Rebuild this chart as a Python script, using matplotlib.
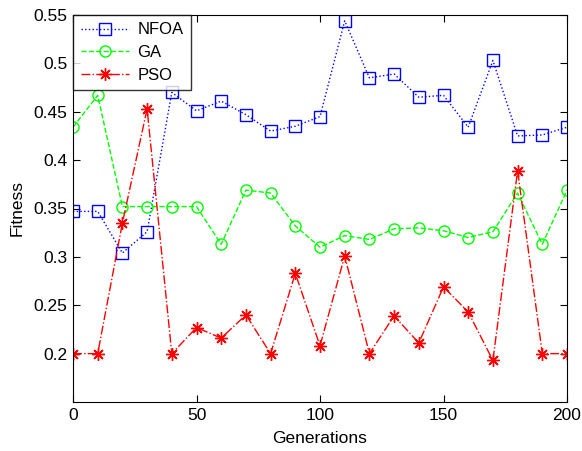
import matplotlib
matplotlib.use("Agg")
import matplotlib.pyplot as plt

plt.rcParams['font.family'] = ['Liberation Sans', 'DejaVu Sans']

generations = list(range(0, 201, 10))
nfoa = [0.347, 0.347, 0.304, 0.326, 0.470, 0.451, 0.461, 0.447, 0.430, 0.435, 0.445,
        0.544, 0.485, 0.489, 0.465, 0.467, 0.434, 0.503, 0.425, 0.426, 0.434]
ga = [0.434, 0.467, 0.352, 0.352, 0.352, 0.352, 0.313, 0.369, 0.366, 0.332, 0.310,
      0.322, 0.318, 0.329, 0.330, 0.327, 0.320, 0.326, 0.366, 0.313, 0.369]
pso = [0.200, 0.200, 0.335, 0.453, 0.200, 0.227, 0.216, 0.240, 0.200, 0.283, 0.208,
       0.301, 0.200, 0.239, 0.211, 0.269, 0.243, 0.193, 0.389, 0.200, 0.200]
yticks = [0.2, 0.25, 0.3, 0.35, 0.4, 0.45, 0.5, 0.55]
ytick_labels = ['0.2', '0.25', '0.3', '0.35', '0.4', '0.45', '0.5', '0.55']

fig = plt.figure(figsize=(5.82, 4.51), dpi=100)
ax = fig.add_axes([73 / 582, 49 / 451, 494 / 582, 387 / 451])

ax.plot(generations, nfoa, color='#0000ff', linestyle=':', marker='s', markersize=8,
        markerfacecolor='none', markeredgewidth=1.0, linewidth=1.0, label='NFOA')
ax.plot(generations, ga, color='#00ff00', linestyle='--', marker='o', markersize=8,
        markerfacecolor='none', markeredgewidth=1.0, linewidth=1.0, label='GA')
# matlab style asterisk marker
ax.plot(generations, pso, color='#ff0000', linestyle='-.', marker=(8, 2, 0), markersize=9,
        markeredgewidth=1.0, linewidth=1.0, label='PSO')

ax.set_xlim(0, 200)
ax.set_ylim(0.15, 0.55)
ax.set_xticks([0, 50, 100, 150, 200])
ax.set_yticks(yticks)
ax.set_yticklabels(ytick_labels)
ax.tick_params(direction='in', top=True, right=True, labelsize=12.5, length=5, pad=4)
ax.set_xlabel('Generations', fontsize=12.5, labelpad=6)
ax.set_ylabel('Fitness', fontsize=12.5, labelpad=6)

leg = ax.legend(loc='upper left', fontsize=12, frameon=True, fancybox=False,
                borderaxespad=0.0, handlelength=2.9, borderpad=0.45, labelspacing=0.45,
                handletextpad=0.5)
leg.get_frame().set_edgecolor('black')
leg.get_frame().set_linewidth(1.0)

fig.savefig('out.png', dpi=100)
